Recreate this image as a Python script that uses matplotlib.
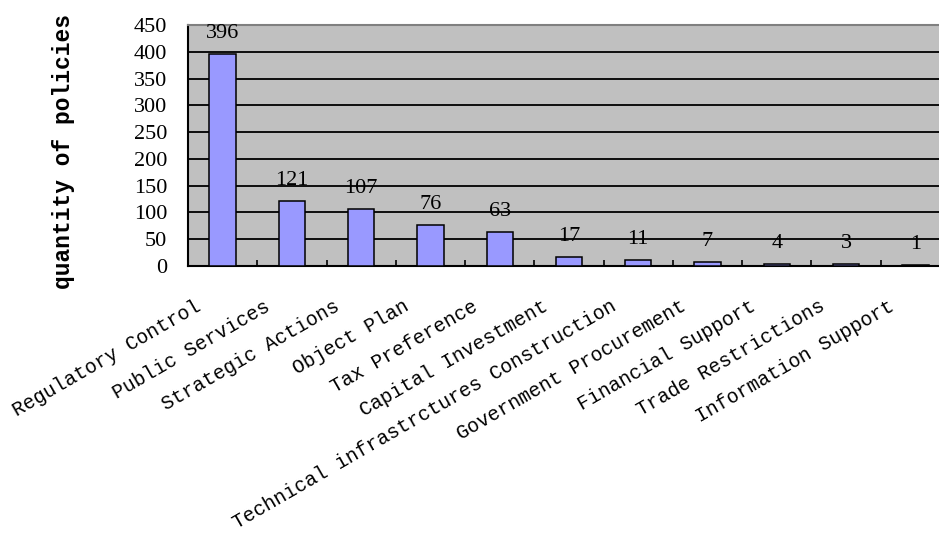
import matplotlib
matplotlib.use("Agg")
import matplotlib.pyplot as plt
import matplotlib.transforms as mtransforms
import numpy as np

categories = [
    "Regulatory Control",
    "Public Services",
    "Strategic Actions",
    "Object Plan",
    "Tax Preference",
    "Capital Investment",
    "Technical infrastrctures Construction",
    "Government Procurement",
    "Financial Support",
    "Trade Restrictions",
    "Information Support",
]
counts = [396, 121, 107, 76, 63, 17, 11, 7, 4, 3, 1]
y_ticks = [0, 50, 100, 150, 200, 250, 300, 350, 400, 450]

mono = ["Liberation Mono", "DejaVu Sans Mono"]
serif = ["Liberation Serif", "DejaVu Serif"]

fig = plt.figure(figsize=(9.39, 5.38), dpi=100)
ax = fig.add_axes([188 / 939, 1 - 266 / 538, 762 / 939, 241 / 538])
ax.set_facecolor("#C0C0C0")

x = np.arange(len(categories))
ax.bar(x, counts, width=0.38, color="#9999FF", edgecolor="black", linewidth=1.1, zorder=3)

# value labels above bars
for xi, v in zip(x, counts):
    ax.annotate(str(v), (xi, v), xytext=(0, 8), textcoords="offset points",
                ha="center", va="bottom", fontsize=16, family=serif, color="black")

ax.set_xlim(-0.5, len(categories) - 0.5)
ax.set_ylim(0, 450)
ax.set_yticks(y_ticks)
ax.yaxis.grid(True, color="black", linewidth=1.3, zorder=1)
ax.set_axisbelow(True)
ax.tick_params(axis="y", length=0, pad=15, labelsize=16)
for lab in ax.get_yticklabels():
    lab.set_family(serif)

# category labels at centres, tick marks at boundaries
ax.set_xticks(x)
ax.set_xticklabels(categories, rotation=30, ha="right", rotation_mode="anchor",
                   fontsize=14.2, family=mono)
ax.tick_params(axis="x", which="major", length=0, pad=22)
ax.set_xticks(np.arange(len(categories) + 1) - 0.5, minor=True)
ax.tick_params(axis="x", which="minor", direction="in", length=4, width=1.2)
shift = mtransforms.ScaledTranslation(-20 / 72, 0, fig.dpi_scale_trans)
for lab in ax.get_xticklabels():
    lab.set_transform(lab.get_transform() + shift)

for side in ["left", "bottom"]:
    ax.spines[side].set_color("black")
    ax.spines[side].set_linewidth(1.5)
ax.spines["top"].set_color("#808080")
ax.spines["top"].set_linewidth(1.5)
ax.spines["right"].set_visible(False)

fig.text(64 / 939, 1 - 151.5 / 538, "quantity of policies", rotation=90,
         ha="center", va="center", fontsize=16.5, fontweight="bold", family=mono)

fig.savefig("out.png", dpi=100)
